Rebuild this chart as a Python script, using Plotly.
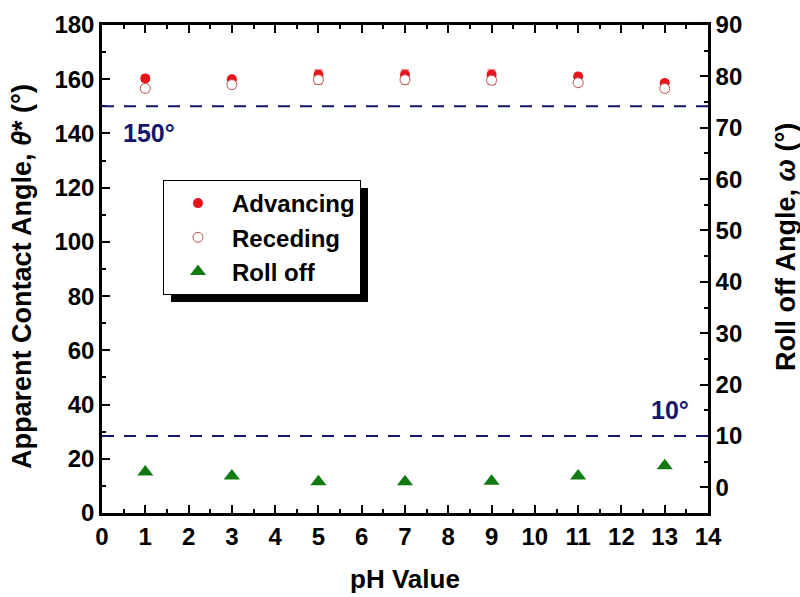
import plotly.graph_objects as go

# ---- data ----
ph = [1, 3, 5, 7, 9, 11, 13]
advancing = [160.3, 160.0, 161.6, 161.6, 161.6, 161.0, 158.6]
advancing_err = [1.0, 1.0, 1.8, 1.8, 1.8, 1.2, 1.0]
receding = [156.6, 158.0, 159.8, 159.8, 159.6, 158.7, 156.6]
receding_err = [1.2, 1.2, 1.5, 1.5, 1.5, 1.2, 1.2]
roll_off = [3.0, 2.2, 1.1, 1.1, 1.2, 2.2, 4.2]
contact_threshold = 150   # left axis
roll_threshold = 10       # right axis

x_ticks = list(range(0, 15))
left_ticks = list(range(0, 181, 20))
right_ticks = list(range(0, 91, 10))

FONT = "Liberation Sans, Arial, sans-serif"
NAVY = "#15156b"
RED = "#e8141c"
GREEN = "#127a12"

# plot-area geometry in pixels (for paper-coordinate placement)
L, R, T, B = 102, 708, 25, 513
W, H = R - L, B - T


def px_x(px):
    return (px - L) / W


def px_y(py):
    return (B - py) / H


fig = go.Figure()

fig.add_trace(go.Scatter(
    x=ph, y=advancing, mode="markers", name="Advancing",
    marker=dict(symbol="circle", size=10, color=RED, line=dict(width=0)),
    error_y=dict(type="data", array=advancing_err, color=RED, thickness=1.2, width=4),
))
fig.add_trace(go.Scatter(
    x=ph, y=receding, mode="markers", name="Receding",
    marker=dict(symbol="circle", size=10, color="white", line=dict(width=1, color="#c0504d")),
    error_y=dict(type="data", array=receding_err, color="#c0504d", thickness=1.2, width=4),
))
fig.add_trace(go.Scatter(
    x=ph, y=roll_off, mode="markers", name="Roll off", yaxis="y2",
    marker=dict(symbol="triangle-up", size=14, color=GREEN, line=dict(width=0)),
))

# threshold lines
fig.add_shape(type="line", xref="paper", x0=0, x1=1, yref="y", y0=contact_threshold, y1=contact_threshold,
              line=dict(color=NAVY, width=2, dash="12px,10px"))
fig.add_shape(type="line", xref="paper", x0=0, x1=1, yref="y2", y0=roll_threshold, y1=roll_threshold,
              line=dict(color=NAVY, width=2, dash="12px,10px"))

# legend shadow (paper coords), offset ~8 px from the legend box
fig.add_shape(type="rect", xref="paper", yref="paper",
              x0=px_x(171), x1=px_x(368), y0=px_y(302), y1=px_y(188),
              fillcolor="black", line=dict(width=0), layer="above")

fig.add_annotation(x=0.45, y=140, xref="x", yref="y", text="150°", showarrow=False,
                   xanchor="left", font=dict(family=FONT, size=25, color=NAVY, weight="bold"))
fig.add_annotation(x=13.6, y=15, xref="x", yref="y2", text="10°", showarrow=False,
                   xanchor="right", font=dict(family=FONT, size=25, color=NAVY, weight="bold"))

axis_font = dict(family=FONT, size=24, color="black", weight="bold")
ytitle_font = dict(family=FONT, size=27, color="black", weight="bold")
xtitle_font = dict(family=FONT, size=26, color="black", weight="bold")

# y-axis titles (placed as rotated text to match the reference positions)
fig.add_annotation(x=px_x(22), y=px_y(277), xref="paper", yref="paper",
                   text="Apparent Contact Angle, <i>θ</i>* (°)", textangle=-90, showarrow=False,
                   xanchor="center", yanchor="middle", font=ytitle_font)
fig.add_annotation(x=px_x(786), y=px_y(247), xref="paper", yref="paper",
                   text="Roll off Angle, <i>ω</i> (°)", textangle=-90, showarrow=False,
                   xanchor="center", yanchor="middle", font=ytitle_font)

fig.update_layout(
    width=800, height=597,
    margin=dict(l=L, r=800 - R, t=T, b=597 - B, autoexpand=False),
    plot_bgcolor="white", paper_bgcolor="white",
    showlegend=True,
    legend=dict(x=px_x(163), y=px_y(180), xanchor="left", yanchor="top",
                bgcolor="white", bordercolor="black", borderwidth=1,
                font=dict(family=FONT, size=24, color="black", weight="bold"),
                itemwidth=58, tracegroupgap=0),
    xaxis=dict(range=[0, 14], tickvals=x_ticks, ticks="inside", ticklen=8, tickwidth=2,
               tickcolor="black", showline=True, linewidth=2.5, linecolor="black",
               mirror="ticks", showgrid=False, zeroline=False, tickfont=axis_font,
               automargin=False,
               minor=dict(dtick=0.5, tick0=0, ticks="inside", ticklen=4, tickwidth=2, tickcolor="black"),
               title=dict(text="pH Value", font=xtitle_font, standoff=22)),
    yaxis=dict(range=[0, 180], tickvals=left_ticks, ticks="inside", ticklen=8, tickwidth=2,
               tickcolor="black", showline=True, linewidth=2.5, linecolor="black",
               showgrid=False, zeroline=False, tickfont=axis_font, automargin=False,
               minor=dict(dtick=10, tick0=0, ticks="inside", ticklen=4, tickwidth=2, tickcolor="black")),
    yaxis2=dict(range=[-5, 90], tickvals=right_ticks, overlaying="y", side="right",
                ticks="inside", ticklen=8, tickwidth=2, tickcolor="black",
                showline=True, linewidth=2.5, linecolor="black",
                showgrid=False, zeroline=False, tickfont=axis_font, automargin=False,
                minor=dict(dtick=5, tick0=0, ticks="inside", ticklen=4, tickwidth=2, tickcolor="black")),
)

fig.write_html("out.html", config={"displayModeBar": False},
               post_script="document.body.style.margin='0px';")
